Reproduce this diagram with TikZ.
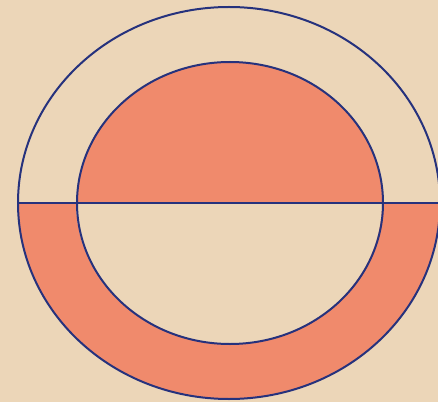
\documentclass[tikz,border=0pt]{standalone}
\definecolor{paper}{RGB}{236,214,184}
\definecolor{crayon}{RGB}{240,138,108}
\definecolor{ink}{RGB}{38,50,125}
\tikzset{outline/.style={draw=ink,line width=2pt}}
\begin{document}
\begin{tikzpicture}[x=1pt,y=1pt]
\useasboundingbox (0,0) rectangle (438,402);
\clip (0,0) rectangle (438,402);
\fill[paper] (0,0) rectangle (438,402);
\coordinate (oc) at (229,199);
\coordinate (ic) at (230,199);
% upper half of inner ellipse
\fill[crayon] (ic) ++(153,0) arc[start angle=0,end angle=180,x radius=153,y radius=141] -- cycle;
% lower half of annulus
\fill[crayon] (oc) ++(-211,0) arc[start angle=180,end angle=360,x radius=211,y radius=196]
  -- ++(-58,0)
  arc[start angle=360,end angle=180,x radius=153,y radius=141] -- cycle;
\draw[outline] (oc) ellipse[x radius=211,y radius=196];
\draw[outline] (ic) ellipse[x radius=153,y radius=141];
\coordinate (l) at (18,199);
\coordinate (r) at (440,199);
\draw[outline,line width=1.8pt] (l) -- (r);
\end{tikzpicture}
\end{document}
